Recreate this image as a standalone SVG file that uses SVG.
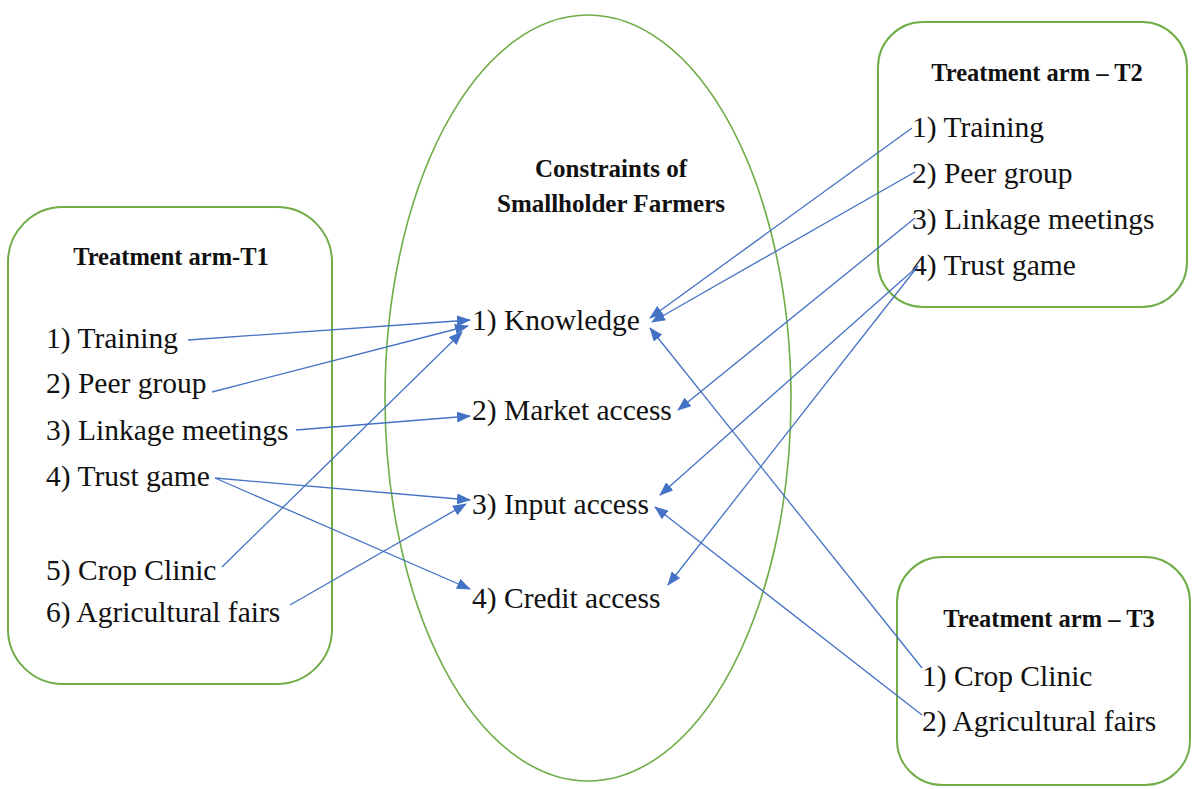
<svg xmlns="http://www.w3.org/2000/svg" width="1193" height="789" viewBox="0 0 1193 789">
<defs>
<marker id="ah" viewBox="0 0 14 11" refX="13" refY="5.5" markerWidth="14" markerHeight="11" markerUnits="userSpaceOnUse" orient="auto">
<path d="M0,0 L14,5.5 L0,11 z" fill="#4472C4"/>
</marker>
<style>
.box{fill:#fff;stroke:#70AD47;stroke-width:2}
.ell{fill:none;stroke:#70AD47;stroke-width:1.6}
text{font-family:'Liberation Serif','Times New Roman',serif;fill:#111}
.h{font-weight:bold;font-size:24.5px}
.hc{font-weight:bold;font-size:25px}
.t{font-size:29.5px}
.c{fill:none;stroke:#4472C4;stroke-width:1.3;marker-end:url(#ah)}
</style>
</defs>
<rect width="1193" height="789" fill="#fff"/>
<g id="constraints">
<ellipse class="ell" cx="588" cy="398" rx="203" ry="383"/>
<text class="hc" x="611" y="177" text-anchor="middle">Constraints of</text>
<text class="hc" x="611" y="212" text-anchor="middle">Smallholder Farmers</text>
<text class="t" x="472" y="330">1) Knowledge</text>
<text class="t" x="472" y="420">2) Market access</text>
<text class="t" x="472" y="514">3) Input access</text>
<text class="t" x="472" y="608">4) Credit access</text>
</g>
<g id="t1">
<rect class="box" x="8" y="207" width="324" height="477" rx="55"/>
<text class="h" x="171" y="265" text-anchor="middle">Treatment arm-T1</text>
<text class="t" x="46" y="348">1) Training</text>
<text class="t" x="46" y="393">2) Peer group</text>
<text class="t" x="46" y="440">3) Linkage meetings</text>
<text class="t" x="46" y="486">4) Trust game</text>
<text class="t" x="46" y="580">5) Crop Clinic</text>
<text class="t" x="46" y="622">6) Agricultural fairs</text>
</g>
<g id="t2">
<rect class="box" x="878" y="22" width="309" height="285" rx="45"/>
<text class="h" x="1037" y="81" text-anchor="middle">Treatment arm – T2</text>
<text class="t" x="912" y="137">1) Training</text>
<text class="t" x="912" y="183">2) Peer group</text>
<text class="t" x="912" y="229">3) Linkage meetings</text>
<text class="t" x="912" y="275">4) Trust game</text>
</g>
<g id="t3">
<rect class="box" x="897" y="557" width="293" height="228" rx="45"/>
<text class="h" x="1049" y="627" text-anchor="middle">Treatment arm – T3</text>
<text class="t" x="922" y="686">1) Crop Clinic</text>
<text class="t" x="922" y="731">2) Agricultural fairs</text>
</g>
<g id="connectors">
<line class="c" x1="188" y1="340" x2="470" y2="320"/>
<line class="c" x1="212" y1="392" x2="468" y2="326"/>
<line class="c" x1="222" y1="567" x2="462" y2="332"/>
<line class="c" x1="296" y1="430" x2="470" y2="416"/>
<line class="c" x1="215" y1="478" x2="470" y2="500"/>
<line class="c" x1="215" y1="478" x2="470" y2="589"/>
<line class="c" x1="290" y1="605" x2="466" y2="504"/>
<line class="c" x1="912" y1="128" x2="650" y2="318"/>
<line class="c" x1="915" y1="172" x2="652" y2="322"/>
<line class="c" x1="915" y1="218" x2="678" y2="410"/>
<line class="c" x1="918" y1="266" x2="660" y2="495"/>
<line class="c" x1="918" y1="266" x2="668" y2="585"/>
<line class="c" x1="922" y1="668" x2="650" y2="328"/>
<line class="c" x1="922" y1="715" x2="655" y2="507"/>
</g>
</svg>
